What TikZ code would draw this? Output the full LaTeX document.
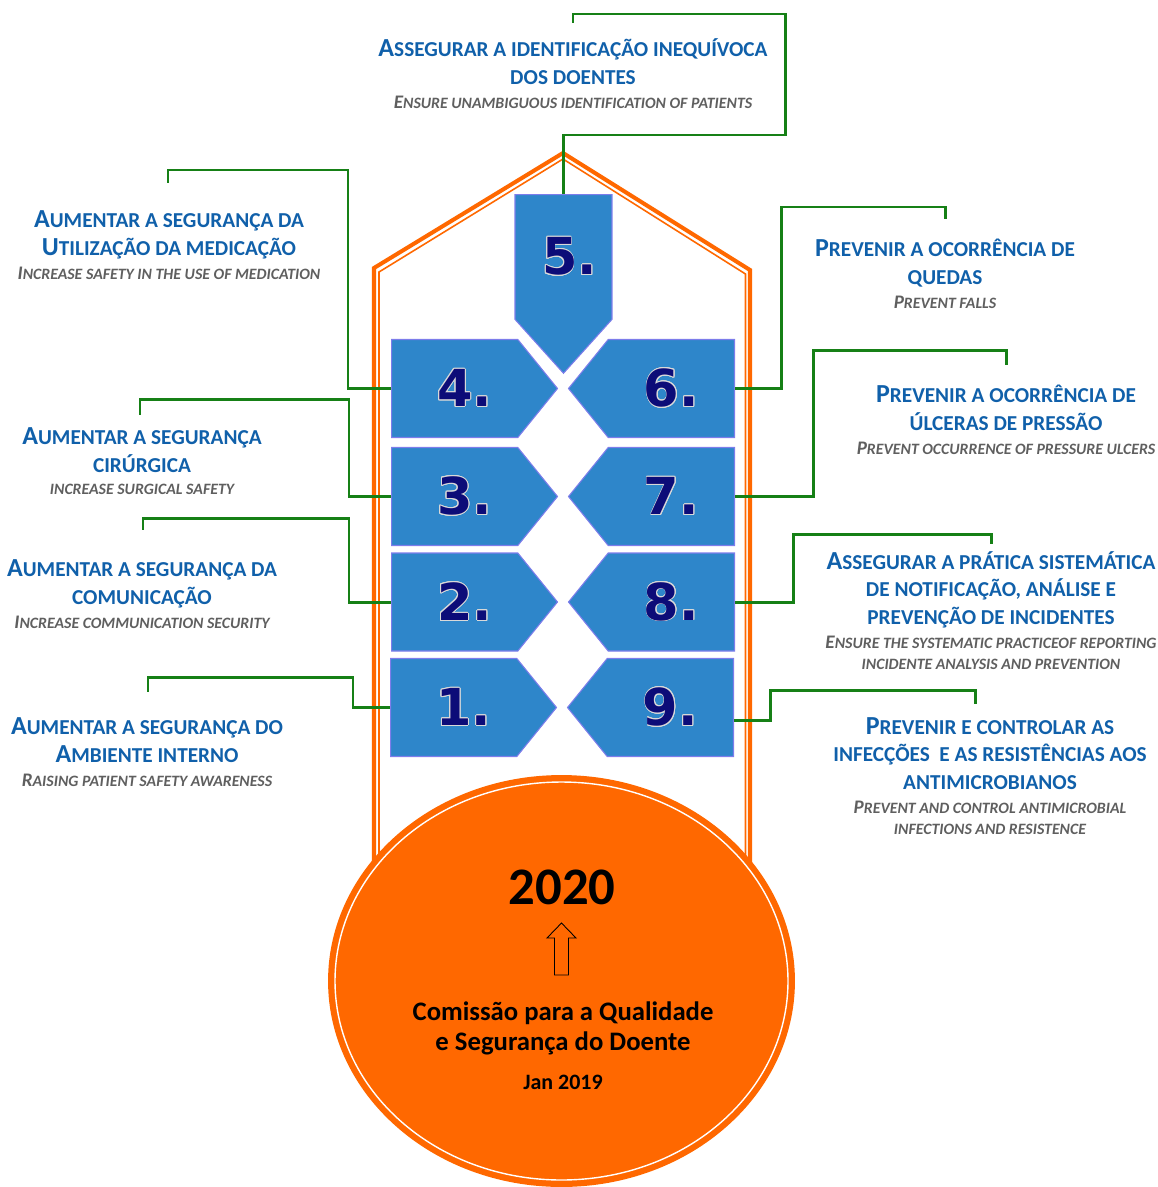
\documentclass[tikz,border=0pt]{standalone}
\usepackage{fontspec}
\setmainfont{Carlito}
\newfontfamily\numfont{DejaVu Sans}
\usepackage{contour}
\contourlength{0.5pt}
\usetikzlibrary{positioning,shapes.symbols,shapes.geometric}
\definecolor{GoalBlue}{RGB}{16,96,170}
\definecolor{NoteGray}{RGB}{95,95,95}
\definecolor{BlockBlue}{RGB}{46,134,202}
\definecolor{BlockEdge}{RGB}{125,125,235}
\definecolor{NumNavy}{RGB}{12,12,120}
\definecolor{LinkGreen}{RGB}{22,128,22}
\definecolor{HouseOrange}{RGB}{255,104,0}
% small capitals, set by hand
\newcommand\tsc[1]{{\fontsize{12.1}{15.4}\selectfont\MakeUppercase{#1}}}
\newcommand\esc[1]{{\fontsize{9}{12}\selectfont\MakeUppercase{#1}}}
\newcommand\blocknum[1]{\contour{white!70!gray}{#1}}
\tikzset{
  goal/.style={
    align=center,
    text=GoalBlue,
    inner sep=0pt,
    anchor=base,
    font=\fontsize{14.8}{15.4}\selectfont\bfseries,
    text depth=2.5pt
  },
  gloss/.style={
    align=center,
    text=NoteGray,
    inner sep=0pt,
    below=4pt of #1,
    font=\fontsize{10.9}{12}\selectfont\bfseries\itshape
  },
  block/.style={
    shape=signal,
    fill=BlockBlue,
    draw=BlockEdge,
    line width=0.6pt,
    inner sep=0pt,
    text=NumNavy,
    font=\numfont\fontsize{29}{29}\selectfont\bfseries
  },
  lblock/.style={block, signal to=east, minimum width=3.32cm, minimum height=1.96cm,
    signal pointer angle=102, anchor=west},
  rblock/.style={block, signal to=west, minimum width=3.32cm, minimum height=1.96cm,
    signal pointer angle=102, anchor=east},
  link/.style={draw=LinkGreen, line width=1.7pt},
  wall/.style={draw=HouseOrange, line width=2.3pt},
  seal/.style={ellipse, fill=HouseOrange, inner sep=0pt,
    minimum width=9.34cm, minimum height=8.24cm}
}

\begin{document}
\begin{tikzpicture}[x=0.02cm, y=-0.02cm]
  \useasboundingbox (0,0) rectangle (1158,1187);

  % house outline
  \draw[wall] (374,870) -- (374,268) -- (563,153) -- (750,270) -- (750,870);
  \draw[wall, line width=0.9pt] (379,870) -- (379,272) -- (563,159) -- (745.5,274) -- (745.5,870);

  % goal blocks
  \node[block, signal to=south, minimum width=1.94cm, minimum height=3.24cm,
    signal pointer angle=84, anchor=north] (b5) at (563.5,194) {\hspace*{0.24cm}\blocknum{5.}};
  \node[lblock] (b4) at (391,388.5) {\hspace*{0.4cm}\blocknum{4.}};
  \node[lblock] (b3) at (391,496.5) {\hspace*{0.4cm}\blocknum{3.}};
  \node[lblock] (b2) at (391,602) {\hspace*{0.4cm}\blocknum{2.}};
  \node[lblock] (b1) at (390,707.5) {\hspace*{0.4cm}\blocknum{1.}};
  \node[rblock] (b6) at (735,388.5) {\blocknum{6.}};
  \node[rblock] (b7) at (735,496.5) {\raisebox{-4pt}{\blocknum{7.}}};
  \node[rblock] (b8) at (735,602) {\blocknum{8.}};
  \node[rblock] (b9) at (734,707.5) {\blocknum{9.}};

  % base
  \node[seal] (seal) at (561.5,981) {};
  \draw[white, line width=0.8pt] (seal.center) ellipse [x radius=226.5, y radius=199];
  \node[font=\fontsize{30}{32}\selectfont\bfseries] (year) at (562,887) {2020};
  \draw[line width=0.5pt] (554.5,975) -- (554.5,938) -- (547,938) -- (561.5,923)
    -- (576,938) -- (568.5,938) -- (568.5,975) -- cycle;
  \node[align=center, font=\fontsize{15.2}{17}\selectfont\bfseries] (cqsd) at (563,1028)
    {Comissão para a Qualidade\\e Segurança do Doente};
  \node[font=\fontsize{12.5}{14}\selectfont\bfseries] (date) at (563,1082) {Jan 2019};

  % goal titles
  \node[goal] (t5) at (573,84) {A\tsc{ssegurar a identificação inequívoca}\\\tsc{dos doentes}};
  \node[gloss=t5] (g5) {E\esc{nsure unambiguous identification of patients}};
  \node[goal] (t4) at (169,255) {A\tsc{umentar a segurança da}\\U\tsc{tilização da medicação}};
  \node[gloss=t4] (g4) {I\esc{ncrease safety in the use of medication}};
  \node[goal] (t3) at (142,472) {A\tsc{umentar a segurança}\\\tsc{cirúrgica}};
  \node[gloss=t3] (g3) {\esc{increase surgical safety}};
  \node[goal] (t2) at (142,604) {A\tsc{umentar a segurança da}\\\tsc{comunicação}};
  \node[gloss=t2] (g2) {I\esc{ncrease communication security}};
  \node[goal] (t1) at (147,762) {A\tsc{umentar a segurança do}\\A\tsc{mbiente interno}};
  \node[gloss=t1] (g1) {R\esc{aising patient safety awareness}};
  \node[goal] (t6) at (945,284) {P\tsc{revenir a ocorrência de}\\\tsc{quedas}};
  \node[gloss=t6] (g6) {P\esc{revent falls}};
  \node[goal] (t7) at (1006,430) {P\tsc{revenir a ocorrência de}\\\tsc{úlceras de pressão}};
  \node[gloss=t7] (g7) {P\esc{revent occurrence of pressure ulcers}};
  \node[goal] (t8) at (991,624) {A\tsc{ssegurar a prática sistemática}\\\tsc{de notificação, análise e}\\\tsc{prevenção de incidentes}};
  \node[gloss=t8] (g8) {E\esc{nsure the systematic practiceof reporting}\\\esc{incidente analysis and prevention}};
  \node[goal] (t9) at (990,789) {P\tsc{revenir e controlar as}\\\tsc{infecções\ \ e as resistências aos}\\\tsc{antimicrobianos}};
  \node[gloss=t9] (g9) {P\esc{revent and control antimicrobial}\\\esc{infections and resistence}};

  % connectors
  \coordinate (e5) at (573,23);
  \coordinate (e4) at (168,183);
  \coordinate (e3) at (140,415);
  \coordinate (e2) at (143,530);
  \coordinate (e1) at (148,692);
  \coordinate (e6) at (945,219);
  \coordinate (e7) at (1006,365);
  \coordinate (e8) at (991,544);
  \coordinate (e9) at (975,704);
  \draw[link] (b5.north) |- (785,135) |- (573,14) -- (e5);
  \draw[link] (b4.west) -| (348,170) -| (e4);
  \draw[link] (b3.west) -| (349,399) -| (e3);
  \draw[link] (b2.west) -| (349,518) -| (e2);
  \draw[link] (b1.west) -| (353,677) -| (e1);
  \draw[link] (b6.east) -| (781,207) -| (e6);
  \draw[link] (b7.east) -| (813,350) -| (e7);
  \draw[link] (b8.east) -| (793,534) -| (e8);
  \draw[link] ([yshift=-7.4pt]b9.east) -| (770,690) -| (e9);
\end{tikzpicture}
\end{document}
